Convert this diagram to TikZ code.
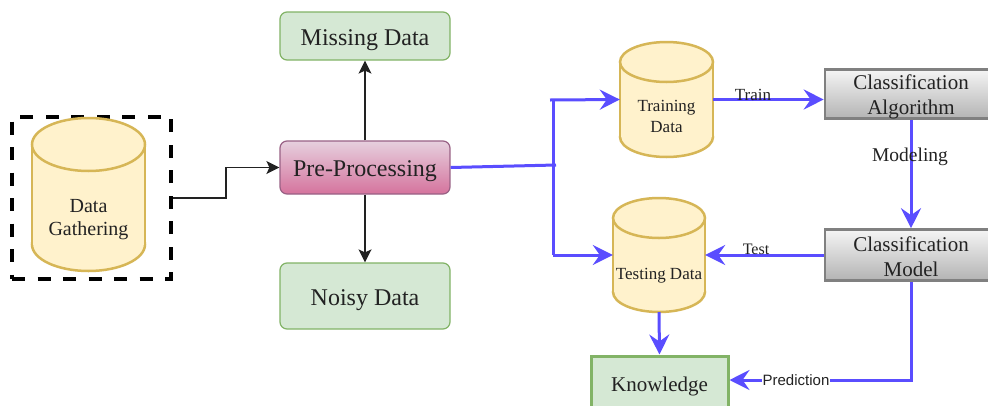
\documentclass[tikz,border=0pt]{standalone}
\usepackage{fontspec}
\setmainfont{Liberation Serif}
\newfontfamily\predfont{Liberation Sans}
\usetikzlibrary{arrows.meta}
\definecolor{gfill}{HTML}{D5E8D4}
\definecolor{gline}{HTML}{82B366}
\definecolor{yfill}{HTML}{FFF2CC}
\definecolor{yline}{HTML}{D6B656}
\definecolor{pline}{HTML}{996185}
\definecolor{ptop}{HTML}{E6D0DE}
\definecolor{pbot}{HTML}{D5739D}
\definecolor{graytop}{HTML}{F5F5F5}
\definecolor{graybot}{HTML}{B3B3B3}
\definecolor{grayline}{HTML}{808080}
\definecolor{flow}{HTML}{5A4DFF}
\definecolor{ink}{HTML}{222222}
\tikzset{
  x=1pt,y=-1pt,
  txt/.style={text=ink,inner sep=0pt,align=center},
  softbox/.style={draw=gline,fill=gfill,line width=1.2pt,rounded corners=7pt,minimum width=170pt,inner sep=0pt,text=ink,text height=23pt,text depth=5pt,font=\fontsize{24}{27}\selectfont},
  prebox/.style={draw=pline,top color=ptop,bottom color=pbot,line width=1.2pt,rounded corners=7pt,minimum width=170pt,minimum height=53pt,inner sep=0pt,text=ink,text height=23pt,text depth=5pt,font=\fontsize{24}{27}\selectfont},
  graybox/.style={draw=grayline,top color=graytop,bottom color=graybot,line width=2.6pt,minimum width=172pt,inner sep=0pt,text=ink,align=center,font=\fontsize{21}{25}\selectfont},
  knowbox/.style={draw=gline,fill=gfill,line width=3pt,minimum width=137pt,minimum height=60pt,inner sep=0pt,text=ink,font=\fontsize{21}{24}\selectfont},
  gatherbox/.style={draw=black,line width=3.6pt,dash pattern=on 13pt off 12.5pt,minimum width=159pt,minimum height=162pt,inner sep=0pt},
  cylbox/.style={inner sep=0pt},
  thinarrow/.style={draw=ink,line width=1.3pt,-{Stealth[length=13pt,width=13pt,inset=3pt]}},
  flowline/.style={draw=flow,line width=3pt},
  flowarrow/.style={flowline,-{Stealth[length=20pt,width=20pt,inset=7pt]}},
  flowlabel/.style={txt,font=\fontsize{17}{20}\selectfont},
}
% name, cx, top, bottom, rx, ry
\newcommand{\cylshape}[6]{%
  \pgfmathsetmacro{\cyltopc}{#3+#6}%
  \pgfmathsetmacro{\cylbotc}{#4-#6}%
  \pgfmathsetmacro{\cylleft}{#2-#5}%
  \pgfmathsetmacro{\cylright}{#2+#5}%
  \pgfmathsetmacro{\cylmid}{(#3+#4)/2}%
  \pgfmathsetmacro{\cylw}{2*#5}%
  \pgfmathsetmacro{\cylh}{#4-#3}%
  \path[draw=yline,fill=yfill,line width=2.5pt] (#2,\cylbotc) ellipse [x radius=#5,y radius=#6];
  \fill[yfill] (\cylleft,\cyltopc) rectangle (\cylright,\cylbotc);
  \draw[yline,line width=2.5pt] (\cylleft,\cyltopc) -- (\cylleft,\cylbotc) (\cylright,\cyltopc) -- (\cylright,\cylbotc);
  \path[draw=yline,fill=yfill,line width=2.5pt] (#2,\cyltopc) ellipse [x radius=#5,y radius=#6];
  \node[cylbox,minimum width=\cylw pt,minimum height=\cylh pt] (#1) at (#2,\cylmid) {};
}
\begin{document}
\begin{tikzpicture}
\useasboundingbox (0,0) rectangle (988,405);
\clip (0,0) rectangle (988,405);
\fill[white] (0,0) rectangle (988,405);

% left
\node[gatherbox] (gather) at (91.5,198) {};
\cylshape{dg}{88.5}{118}{271}{56.5}{26.5}
\node[txt,font=\fontsize{20}{22.5}\selectfont] (dgtext) at (88.5,219.5) {Data\\Gathering};

% middle
\node[softbox,minimum height=48pt] (missing) at (365,36) {Missing Data};
\node[prebox] (pre) at (365,167.5) {Pre-Processing};
\node[softbox,minimum height=66pt] (noisy) at (365,296) {Noisy Data};

% cylinders
\cylshape{train}{666.5}{42}{157}{46.5}{20}
\node[txt,font=\fontsize{17}{21}\selectfont] (traintext) at (666.5,116.5) {Training\\Data};
\cylshape{test}{659}{198}{312}{46}{20}
\node[txt,font=\fontsize{17}{20}\selectfont] (testtext) at (659,275.5) {Testing Data};

% right
\node[graybox,minimum height=49pt] (algo) at (911,94) {\rule{0pt}{20pt}Classification\\Algorithm};
\node[graybox,minimum height=51pt] (model) at (911,255) {\rule{0pt}{19pt}Classification\\Model};
\node[knowbox] (know) at (659.5,386) {Knowledge};

% junctions
\coordinate (jtop) at (553,100);
\coordinate (jtopstub) at (550,100);
\coordinate (jmid) at (556,165);
\coordinate (jbot) at (553,255);
\coordinate (predcorner) at (911,380);

% black connectors
\draw[thinarrow] (gather.east) -- (226,198) |- (pre.west);
\draw[thinarrow] (pre.north) -- (missing.south);
\draw[thinarrow] (pre.south) -- (noisy.north);

% blue connectors
\draw[flowline] (pre.east) -- (jmid);
\draw[flowline] (jtop) -- (jbot);
\draw[flowarrow] (jtopstub) -- (train.west);
\draw[flowarrow] (jbot) -- (test.west);
\draw[flowarrow] (train.east) -- (algo.west |- train.east);
\draw[flowarrow] (algo.south) -- (model.north);
\draw[flowarrow] (model.west) -- (test.east);
\draw[flowarrow] (test.south) -- (know.north);
\draw[flowarrow] (model.south) -- (predcorner) -- (know.east |- predcorner);

% labels
\node[flowlabel] (trainlab) at (753,95) {Train};
\node[flowlabel,font=\fontsize{19.5}{22}\selectfont] (modellab) at (910,157) {Modeling};
\node[flowlabel,font=\fontsize{16}{20}\selectfont] (testlab) at (756,249) {Test};
\node[fill=white,inner sep=1pt,text=ink,font=\predfont\fontsize{15}{18}\selectfont] (predlab) at (796,380) {Prediction};
\end{tikzpicture}
\end{document}
